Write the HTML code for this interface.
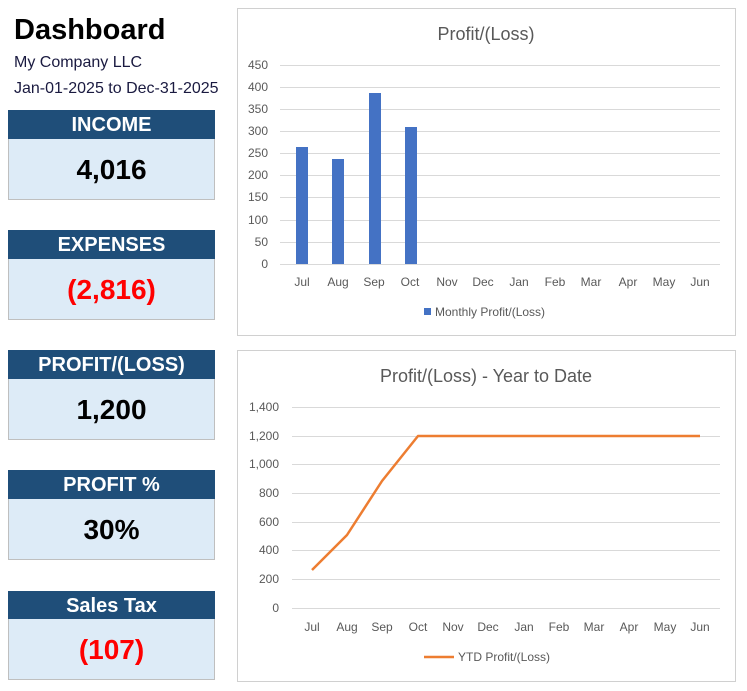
<!DOCTYPE html>
<html><head><style>
body{margin:0;width:747px;height:691px;background:#fff;font-family:"Liberation Sans",Calibri,sans-serif;position:relative;overflow:hidden}
.a{position:absolute}
.h{position:absolute;left:8px;width:207px;height:29px;background:#1f4e79;color:#fff;font-weight:bold;font-size:20px;text-align:center;line-height:30px}
.b{position:absolute;left:8px;width:205px;height:60px;background:#ddebf7;border:1px solid #bfbfbf;border-top:none;text-align:center;font-weight:bold;font-size:28px;line-height:62px;color:#000}
.r{color:#ff0000}
</style></head><body>
<div class="a" style="left:14px;top:14px;font-size:29px;font-weight:bold">Dashboard</div>
<div class="a" style="left:14px;top:54px;font-size:16px;color:#1a1a40">My Company LLC</div>
<div class="a" style="left:14px;top:80px;font-size:16px;color:#1a1a40">Jan-01-2025 to Dec-31-2025</div>
<div class="h" style="top:110px">INCOME</div><div class="b" style="top:139px">4,016</div>
<div class="h" style="top:230px">EXPENSES</div><div class="b r" style="top:259px">(2,816)</div>
<div class="h" style="top:350px">PROFIT/(LOSS)</div><div class="b" style="top:379px">1,200</div>
<div class="h" style="top:470px">PROFIT %</div><div class="b" style="top:499px">30%</div>
<div class="h" style="top:591px">Sales Tax</div><div class="b r" style="top:619px">(107)</div>

<svg class="a" style="left:0;top:0" width="747" height="691" font-family="Liberation Sans, sans-serif">
<rect x="237.5" y="8.5" width="498" height="327" fill="#fff" stroke="#d0d0d0"/>
<text x="486" y="40" font-size="18" fill="#595959" text-anchor="middle">Profit/(Loss)</text>
<g stroke="#d9d9d9" stroke-width="1">
<line x1="280" x2="720" y1="65.5" y2="65.5"/><line x1="280" x2="720" y1="87.5" y2="87.5"/><line x1="280" x2="720" y1="109.5" y2="109.5"/><line x1="280" x2="720" y1="131.5" y2="131.5"/><line x1="280" x2="720" y1="153.5" y2="153.5"/><line x1="280" x2="720" y1="175.5" y2="175.5"/><line x1="280" x2="720" y1="197.5" y2="197.5"/><line x1="280" x2="720" y1="220.5" y2="220.5"/><line x1="280" x2="720" y1="242.5" y2="242.5"/><line x1="280" x2="720" y1="264.5" y2="264.5"/>
</g>
<g font-size="12" fill="#595959" text-anchor="end">
<text x="268" y="69">450</text><text x="268" y="91">400</text><text x="268" y="113">350</text><text x="268" y="135">300</text><text x="268" y="157">250</text><text x="268" y="179">200</text><text x="268" y="201">150</text><text x="268" y="224">100</text><text x="268" y="246">50</text><text x="268" y="268">0</text>
</g>
<g fill="#4472c4">
<rect x="296" y="147" width="12" height="117"/><rect x="332" y="159" width="12" height="105"/><rect x="369" y="93" width="12" height="171"/><rect x="405" y="127" width="12" height="137"/>
</g>
<g font-size="12" fill="#595959" text-anchor="middle">
<text x="302" y="286">Jul</text><text x="338" y="286">Aug</text><text x="374" y="286">Sep</text><text x="410" y="286">Oct</text><text x="447" y="286">Nov</text><text x="483" y="286">Dec</text><text x="519" y="286">Jan</text><text x="555" y="286">Feb</text><text x="591" y="286">Mar</text><text x="628" y="286">Apr</text><text x="664" y="286">May</text><text x="700" y="286">Jun</text>
</g>
<rect x="424" y="308" width="7" height="7" fill="#4472c4"/>
<text x="435" y="316" font-size="12" fill="#595959">Monthly Profit/(Loss)</text>

<rect x="237.5" y="350.5" width="498" height="331" fill="#fff" stroke="#d0d0d0"/>
<text x="486" y="382" font-size="18" fill="#595959" text-anchor="middle">Profit/(Loss) - Year to Date</text>
<g stroke="#d9d9d9">
<line x1="292" x2="720" y1="407.5" y2="407.5"/><line x1="292" x2="720" y1="436.5" y2="436.5"/><line x1="292" x2="720" y1="464.5" y2="464.5"/><line x1="292" x2="720" y1="493.5" y2="493.5"/><line x1="292" x2="720" y1="522.5" y2="522.5"/><line x1="292" x2="720" y1="550.5" y2="550.5"/><line x1="292" x2="720" y1="579.5" y2="579.5"/><line x1="292" x2="720" y1="608.5" y2="608.5"/>
</g>
<g font-size="12" fill="#595959" text-anchor="end">
<text x="279" y="411">1,400</text><text x="279" y="440">1,200</text><text x="279" y="468">1,000</text><text x="279" y="497">800</text><text x="279" y="526">600</text><text x="279" y="554">400</text><text x="279" y="583">200</text><text x="279" y="612">0</text>
</g>
<polyline fill="none" stroke="#ed7d31" stroke-width="2.5" stroke-linejoin="round" points="312,570 347,535 382,481 418,436 700,436"/>
<g font-size="12" fill="#595959" text-anchor="middle">
<text x="312" y="631">Jul</text><text x="347" y="631">Aug</text><text x="382" y="631">Sep</text><text x="418" y="631">Oct</text><text x="453" y="631">Nov</text><text x="488" y="631">Dec</text><text x="524" y="631">Jan</text><text x="559" y="631">Feb</text><text x="594" y="631">Mar</text><text x="629" y="631">Apr</text><text x="665" y="631">May</text><text x="700" y="631">Jun</text>
</g>
<line x1="424" x2="454" y1="657" y2="657" stroke="#ed7d31" stroke-width="2.5"/>
<text x="458" y="661" font-size="12" fill="#595959">YTD Profit/(Loss)</text>
</svg>
</body></html>
